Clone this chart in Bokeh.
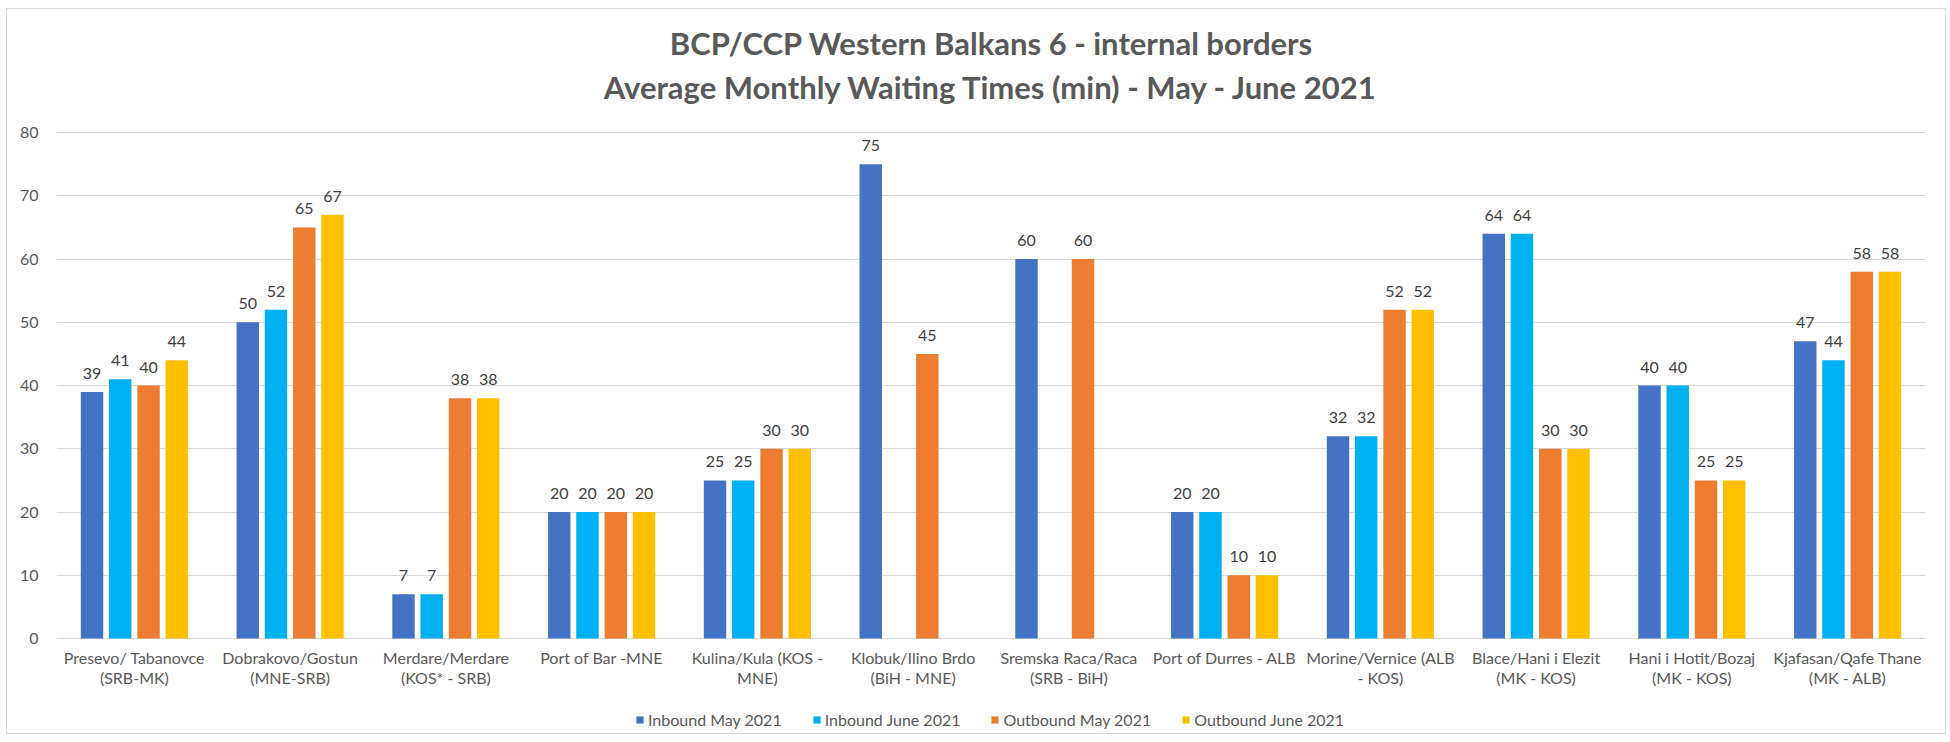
from bokeh.plotting import figure
from bokeh.models import (ColumnDataSource, FactorRange, Legend, LegendItem, LabelSet,
                          Label, FixedTicker)
from bokeh.core.properties import value
from bokeh.transform import dodge
from bokeh.embed import file_html
from bokeh.resources import INLINE

title_lines = ["BCP/CCP Western Balkans 6 - internal borders",
               "Average Monthly Waiting Times (min) - May - June 2021"]
categories = [
    "Presevo/ Tabanovce\n(SRB-MK)",
    "Dobrakovo/Gostun\n(MNE-SRB)",
    "Merdare/Merdare\n(KOS* - SRB)",
    "Port of Bar -MNE",
    "Kulina/Kula (KOS -\nMNE)",
    "Klobuk/Ilino Brdo\n(BiH - MNE)",
    "Sremska Raca/Raca\n(SRB - BiH)",
    "Port of Durres - ALB",
    "Morine/Vernice (ALB\n- KOS)",
    "Blace/Hani i Elezit\n(MK - KOS)",
    "Hani i Hotit/Bozaj\n(MK - KOS)",
    "Kjafasan/Qafe Thane\n(MK - ALB)",
]
y_ticks = [0, 10, 20, 30, 40, 50, 60, 70, 80]
inbound_may = [39, 50, 7, 20, 25, 75, 60, 20, 32, 64, 40, 47]
inbound_june = [41, 52, 7, 20, 25, None, None, 20, 32, 64, 40, 44]
outbound_may = [40, 65, 38, 20, 30, 45, 60, 10, 52, 30, 25, 58]
outbound_june = [44, 67, 38, 20, 30, None, None, 10, 52, 30, 25, 58]

series_names = ["Inbound May 2021", "Inbound June 2021", "Outbound May 2021", "Outbound June 2021"]
series_values = [inbound_may, inbound_june, outbound_may, outbound_june]
colors = ["#4472C4", "#00B0F0", "#ED7D31", "#FFC000"]
offsets = [-0.272, -0.091, 0.091, 0.272]

FONT = "Lato"
GREY = "#595959"

# frame covers the whole chart box; value axis 0..80 maps to the reference plot area
p = figure(x_range=FactorRange(*categories), y_range=(-15.0, 99.45),
           frame_width=1869, frame_height=724, output_backend="svg", toolbar_location=None,
           min_border_left=49, min_border_right=20, min_border_top=0, min_border_bottom=0)
p.x_range.range_padding = 0
p.outline_line_color = None
p.styles = {"border": "1px solid #D9D9D9", "margin": "8px 0px 0px 6px"}

items = []
for name, vals, col, off in zip(series_names, series_values, colors, offsets):
    xs = [c for c, v in zip(categories, vals) if v is not None]
    ys = [v for v in vals if v is not None]
    src = ColumnDataSource(dict(x=xs, y=ys, t=[str(v) for v in ys]))
    r = p.vbar(x=dodge("x", off, range=p.x_range), top="y", width=0.144, source=src,
               fill_color=col, line_color=None)
    items.append(LegendItem(label=name, renderers=[r]))
    lbl = LabelSet(x=dodge("x", off, range=p.x_range), y="y", text="t", source=src,
                   text_align="center", text_baseline="alphabetic", y_offset=13,
                   text_font=value(FONT), text_font_size="16px", text_color="#404040")
    p.add_layout(lbl)

# axes
p.yaxis.ticker = FixedTicker(ticks=y_ticks)
p.yaxis.axis_line_color = None
p.yaxis.major_tick_line_color = None
p.yaxis.minor_tick_line_color = None
p.yaxis.major_label_text_font = FONT
p.yaxis.major_label_text_font_size = "16px"
p.yaxis.major_label_text_color = GREY
p.yaxis.major_label_standoff = 12

p.xaxis.fixed_location = 0
p.xaxis.axis_line_color = None
p.xaxis.major_tick_line_color = None
p.xaxis.minor_tick_line_color = None
p.xaxis.major_label_text_font = FONT
p.xaxis.major_label_text_font_size = "16px"
p.xaxis.major_label_text_color = GREY
p.xaxis.major_label_text_line_height = 1.05
p.xaxis.major_label_standoff = 3

p.xgrid.grid_line_color = None
p.ygrid.grid_line_color = "#D9D9D9"
p.ygrid.grid_line_width = 1

legend = Legend(items=items, orientation="horizontal", location=(579, 4),
                label_text_font=FONT, label_text_font_size="16px", label_text_color=GREY,
                glyph_width=9, glyph_height=9, label_standoff=4, spacing=30,
                label_height=20, border_line_color=None, background_fill_alpha=0,
                margin=0, padding=0)
p.add_layout(legend)

for line, ys in zip(title_lines, [691, 647]):
    p.add_layout(Label(x=935, y=ys, x_units="screen", y_units="screen", text=line,
                       text_align="center", text_baseline="middle",
                       text_font=FONT, text_font_size="31px", text_font_style="bold",
                       text_color=GREY))

open("out.html", "w").write(file_html(p, INLINE))
